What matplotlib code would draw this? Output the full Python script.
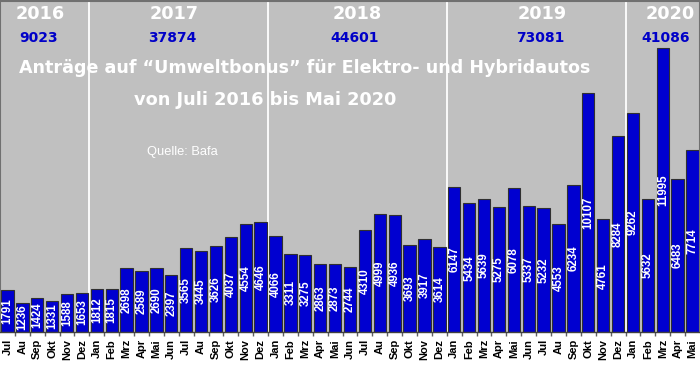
# ============================================================
# A. DATA
# ============================================================
import matplotlib.pyplot as plt

months = [
    'Jul', 'Au', 'Sep', 'Okt', 'Nov', 'Dez',
    'Jan', 'Feb', 'Mrz', 'Apr', 'Mai', 'Jun', 'Jul', 'Au', 'Sep', 'Okt', 'Nov', 'Dez',
    'Jan', 'Feb', 'Mrz', 'Apr', 'Mai', 'Jun', 'Jul', 'Au', 'Sep', 'Okt', 'Nov', 'Dez',
    'Jan', 'Feb', 'Mrz', 'Apr', 'Mai', 'Jun', 'Jul', 'Au', 'Sep', 'Okt', 'Nov', 'Dez',
    'Jan', 'Feb', 'Mrz', 'Apr', 'Mai',
]

antraege = [
    1791, 1236, 1424, 1331, 1588, 1653,
    1812, 1815, 2698, 2589, 2690, 2397, 3565, 3445, 3626, 4037, 4554, 4646,
    4066, 3311, 3275, 2863, 2873, 2744, 4310, 4999, 4936, 3693, 3917, 3614,
    6147, 5434, 5639, 5275, 6078, 5337, 5232, 4553, 6234, 10107, 4761, 8284,
    9262, 5632, 11995, 6483, 7714,
]

years = ['2016', '2017', '2018', '2019', '2020']
year_totals = ['9023', '37874', '44601', '73081', '41086']
months_per_year = [6, 12, 12, 12, 5]

# ============================================================
# B. FIGURE
# ============================================================
fig = plt.figure(figsize=(7, 3.67), dpi=100)
fig.patch.set_facecolor('white')
ax = fig.add_axes([0.0, 0.0954, 1.0, 0.902])
ax.set_facecolor('#C0C0C0')

x = list(range(len(antraege)))

# ============================================================
# C. TRENNLINIEN ZWISCHEN DEN JAHREN
# ============================================================
boundaries = []
pos = 0
for n in months_per_year[:-1]:
    pos += n
    boundaries.append(pos - 0.5)

for b in boundaries:
    ax.axvline(b, color='white', linewidth=1.3, zorder=1)

# ============================================================
# D. BALKEN + WERTE
# ============================================================
ax.bar(
    x,
    antraege,
    width=0.83,
    color='#0000D0',
    edgecolor='#303030',
    linewidth=0.8,
    zorder=2
)

for xi, v in zip(x, antraege):
    ax.text(
        xi, v / 2, str(v),
        rotation=90,
        ha='center',
        va='center',
        color='white',
        fontsize=8.3,
        fontweight='bold',
        family='Liberation Sans',
        zorder=3
    )

# ============================================================
# E. JAHRE, SUMMEN, TITEL
# ============================================================
year_x = [2.2, 11.2, 23.5, 35.9, 44.5]
total_x = [2.1, 11.1, 23.3, 35.8, 44.2]

for yx, lab in zip(year_x, years):
    ax.text(
        yx, 0.962, lab,
        transform=ax.get_xaxis_transform(),
        ha='center', va='center',
        color='white', fontsize=12.7, fontweight='bold',
        family='DejaVu Sans'
    )

for tx, lab in zip(total_x, year_totals):
    ax.text(
        tx, 0.887, lab,
        transform=ax.get_xaxis_transform(),
        ha='center', va='center',
        color='#0000C8', fontsize=10, fontweight='bold',
        family='DejaVu Sans'
    )

fig.text(
    305 / 700, 1 - 68 / 367,
    'Anträge auf “Umweltbonus” für Elektro- und Hybridautos',
    ha='center', va='center',
    color='white', fontsize=12.65, fontweight='bold',
    family='DejaVu Sans'
)

fig.text(
    265 / 700, 1 - 100 / 367,
    'von Juli 2016 bis Mai 2020',
    ha='center', va='center',
    color='white', fontsize=12.75, fontweight='bold',
    family='DejaVu Sans'
)

fig.text(
    147 / 700, 1 - 152 / 367,
    'Quelle: Bafa',
    ha='left', va='center',
    color='white', fontsize=9.3,
    family='Liberation Sans'
)

# ============================================================
# F. ACHSEN
# ============================================================
ax.set_xlim(-0.5, len(antraege) - 0.5)
ax.set_ylim(0, 14000)
ax.set_yticks([])

ax.set_xticks(x)
ax.set_xticklabels(
    months,
    rotation=90,
    fontsize=8,
    fontweight='bold',
    family='Liberation Sans'
)
ax.tick_params(axis='x', which='major', length=0, pad=5)
ax.set_xticks([i + 0.5 for i in x[:-1]], minor=True)
ax.tick_params(axis='x', which='minor', length=3, color='#606060', width=1)

for side in ['top', 'left', 'right']:
    ax.spines[side].set_color('#707070')
    ax.spines[side].set_linewidth(1.5)
ax.spines['bottom'].set_color('#404040')
ax.spines['bottom'].set_linewidth(1)

# ============================================================
# G. SPEICHERN
# ============================================================
plt.savefig('out.png', dpi=100)
